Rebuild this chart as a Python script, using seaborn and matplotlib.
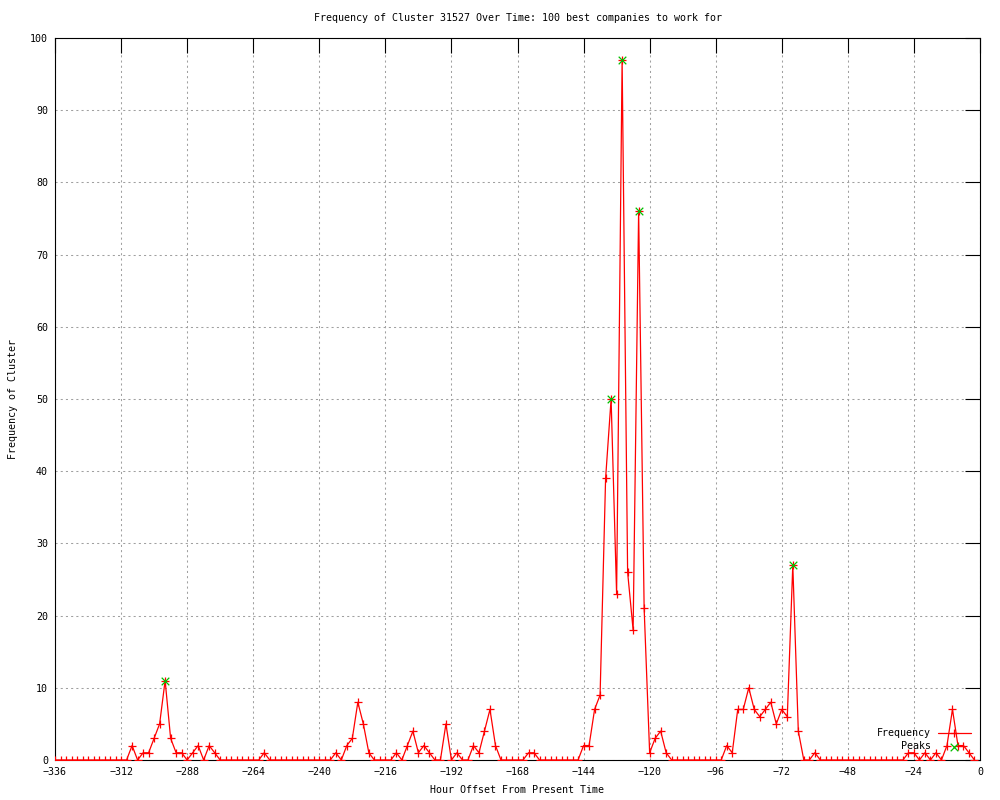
import numpy as np
import pandas as pd
import seaborn as sns
import matplotlib.pyplot as plt

# Hour offsets, one point every 2 hours
hours = list(range(-336, 0, 2))

# Frequency per 2h bin, one row per day (12 values)
frequency = [
    0, 0, 0, 0, 0, 0, 0, 0, 0, 0, 0, 0,        # -336 .. -314
    0, 0, 2, 0, 1, 1, 3, 5, 11, 3, 1, 1,       # -312 .. -290
    0, 1, 2, 0, 2, 1, 0, 0, 0, 0, 0, 0,        # -288 .. -266
    0, 0, 1, 0, 0, 0, 0, 0, 0, 0, 0, 0,        # -264 .. -242
    0, 0, 0, 1, 0, 2, 3, 8, 5, 1, 0, 0,        # -240 .. -218
    0, 0, 1, 0, 2, 4, 1, 2, 1, 0, 0, 5,        # -216 .. -194
    0, 1, 0, 0, 2, 1, 4, 7, 2, 0, 0, 0,        # -192 .. -170
    0, 0, 1, 1, 0, 0, 0, 0, 0, 0, 0, 0,        # -168 .. -146
    2, 2, 7, 9, 39, 50, 23, 97, 26, 18, 76, 21,  # -144 .. -122
    1, 3, 4, 1, 0, 0, 0, 0, 0, 0, 0, 0,        # -120 .. -98
    0, 0, 2, 1, 7, 7, 10, 7, 6, 7, 8, 5,       # -96 .. -74
    7, 6, 27, 4, 0, 0, 1, 0, 0, 0, 0, 0,       # -72 .. -50
    0, 0, 0, 0, 0, 0, 0, 0, 0, 0, 0, 1,        # -48 .. -26
    1, 0, 1, 0, 1, 0, 2, 7, 2, 2, 1, 0,        # -24 .. -2
]

peak_hours = [-296, -134, -130, -124, -68]
peak_values = [11, 50, 97, 76, 27]

df = pd.DataFrame({'Hour': hours, 'Frequency': frequency})
peaks = pd.DataFrame({'Hour': peak_hours, 'Frequency': peak_values})

sns.set_style('white')
plt.rcParams['font.family'] = ['DejaVu Sans Mono']
plt.rcParams['text.color'] = 'black'
plt.rcParams['axes.labelcolor'] = 'black'
fs = 7.2

fig = plt.figure(figsize=(10, 8), dpi=100)
ax = fig.add_axes([0.055, 0.05, 0.925, 0.9025])

sns.lineplot(data=df, x='Hour', y='Frequency', ax=ax, color='#ff0000',
             linewidth=0.9, marker='+', markersize=6, markeredgewidth=0.9,
             markeredgecolor='#ff0000', label='Frequency', zorder=3)
sns.scatterplot(data=peaks, x='Hour', y='Frequency', ax=ax, color='#00c000',
                marker='x', s=30, linewidth=0.9, label='Peaks', zorder=4)

ax.set_xlim(-336, 0)
ax.set_ylim(0, 100)
ax.set_xticks(np.arange(-336, 1, 24))
ax.set_yticks(np.arange(0, 101, 10))
ax.tick_params(direction='in', length=11, width=0.8, top=True, right=True,
               labelsize=fs, pad=5, colors='black')

ax.grid(True, color='#a0a0a0', linestyle=(0, (2, 3)), linewidth=0.75)
for s in ax.spines.values():
    s.set_color('black')
    s.set_linewidth(0.8)

ax.set_title('Frequency of Cluster 31527 Over Time: 100 best companies to work for',
             fontsize=fs, pad=12, color='black')
ax.set_xlabel('Hour Offset From Present Time', fontsize=fs, labelpad=6)
ax.set_ylabel('Frequency of Cluster', fontsize=fs, labelpad=9)

handles, labels = ax.get_legend_handles_labels()
ax.legend(handles, labels, loc='lower right', bbox_to_anchor=(0.99, 0.012),
          frameon=False, markerfirst=False, fontsize=fs, handlelength=3.3,
          handletextpad=0.7, labelspacing=0.3, borderpad=0, borderaxespad=0,
          numpoints=1)

fig.savefig('out.png', dpi=100)
